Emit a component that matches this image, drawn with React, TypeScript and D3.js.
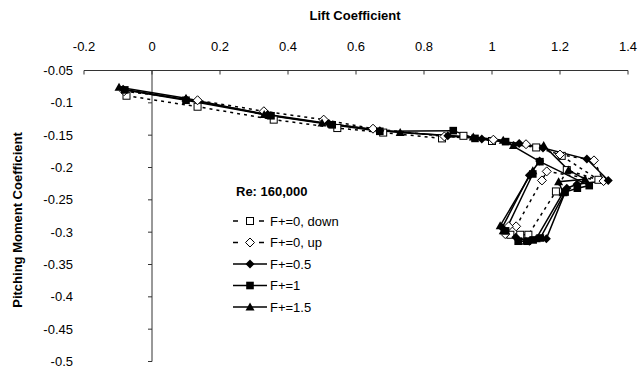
import React from "react";
import * as d3 from "d3";

const xTicks = [-0.2, 0, 0.2, 0.4, 0.6, 0.8, 1, 1.2, 1.4];
const yTicks = [-0.05, -0.1, -0.15, -0.2, -0.25, -0.3, -0.35, -0.4, -0.45, -0.5];

const f0downX = [-0.075, 0.134, 0.358, 0.545, 0.68, 0.853, 0.916, 1.0, 1.13, 1.205, 1.313, 1.22, 1.188, 1.107, 1.083, 1.054];
const f0downY = [-0.089, -0.106, -0.126, -0.139, -0.146, -0.155, -0.151, -0.159, -0.169, -0.182, -0.219, -0.204, -0.237, -0.304, -0.304, -0.304];

const f0upX = [-0.082, 0.134, 0.329, 0.505, 0.65, 0.86, 1.004, 1.1, 1.2, 1.3, 1.328, 1.161, 1.147, 1.071, 1.049, 1.039];
const f0upY = [-0.082, -0.096, -0.113, -0.126, -0.14, -0.152, -0.157, -0.164, -0.18, -0.189, -0.221, -0.206, -0.22, -0.291, -0.291, -0.303];

const f05X = [-0.085, 0.1, 0.34, 0.52, 0.67, 0.87, 0.97, 1.08, 1.15, 1.279, 1.342, 1.25, 1.22, 1.16, 1.11, 1.07, 1.03, 1.11, 1.14];
const f05Y = [-0.079, -0.095, -0.118, -0.132, -0.143, -0.151, -0.156, -0.163, -0.17, -0.187, -0.22, -0.226, -0.232, -0.31, -0.314, -0.308, -0.293, -0.212, -0.19];

const f1X = [-0.08, 0.1, 0.35, 0.53, 0.67, 0.886, 0.95, 1.04, 1.141, 1.286, 1.251, 1.215, 1.142, 1.121, 1.104, 1.077, 1.04, 1.12];
const f1Y = [-0.08, -0.096, -0.12, -0.134, -0.144, -0.143, -0.155, -0.16, -0.191, -0.228, -0.232, -0.238, -0.309, -0.312, -0.314, -0.314, -0.298, -0.21];

const f15X = [-0.097, 0.1, 0.33, 0.5, 0.73, 0.945, 1.033, 1.063, 1.152, 1.225, 1.274, 1.196, 1.209, 1.13, 1.1, 1.033, 1.024, 1.12];
const f15Y = [-0.076, -0.093, -0.118, -0.131, -0.146, -0.153, -0.158, -0.166, -0.166, -0.204, -0.218, -0.222, -0.239, -0.31, -0.314, -0.298, -0.29, -0.205];

const seriesNames = ["F+=0, down", "F+=0, up", "F+=0.5", "F+=1", "F+=1.5"];
const seriesMarkers = ["openSquare", "openDiamond", "diamond", "square", "triangle"];
const seriesDashed = [true, true, false, false, false];

const W = 641, H = 373;
const x = d3.scaleLinear().domain([-0.2, 1.4]).range([84, 628]);
const y = d3.scaleLinear().domain([-0.05, -0.5]).range([70.5, 361.5]);

const FONT = "'Liberation Sans', Arial, sans-serif";

function Marker({ kind, cx, cy }: { kind: string; cx: number; cy: number }) {
  switch (kind) {
    case "openSquare":
      return <rect x={cx - 3.5} y={cy - 3.5} width={7} height={7} fill="#fff" stroke="#000" strokeWidth={1} />;
    case "square":
      return <rect x={cx - 3.8} y={cy - 3.8} width={7.6} height={7.6} fill="#000" />;
    case "openDiamond":
      return <polygon points={`${cx},${cy - 4.5} ${cx + 4.5},${cy} ${cx},${cy + 4.5} ${cx - 4.5},${cy}`} fill="#fff" stroke="#000" strokeWidth={1} />;
    case "diamond":
      return <polygon points={`${cx},${cy - 4.5} ${cx + 4.5},${cy} ${cx},${cy + 4.5} ${cx - 4.5},${cy}`} fill="#000" />;
    case "triangle":
    default:
      return <polygon points={`${cx},${cy - 4.5} ${cx + 4.5},${cy + 3.5} ${cx - 4.5},${cy + 3.5}`} fill="#000" />;
  }
}

export default function App() {
  const allX = [f0downX, f0upX, f05X, f1X, f15X];
  const allY = [f0downY, f0upY, f05Y, f1Y, f15Y];
  const data = allX.map((xs, i) => xs.map((v, j) => [v, allY[i][j]] as [number, number]));
  const line = d3.line<[number, number]>().x((d) => x(d[0])).y((d) => y(d[1]));

  const legX = 233;
  const legY0 = 221;
  const legDy = 21.5;

  return (
    <svg width={W} height={H} style={{ position: "absolute", left: 0, top: 0, background: "#fff" }} fontFamily={FONT}>
      <rect width={W} height={H} fill="#fff" />
      <text x={355} y={20} textAnchor="middle" fontWeight="bold" fontSize={13}>Lift Coefficient</text>
      <text transform={`translate(22,${220}) rotate(-90)`} textAnchor="middle" fontWeight="bold" fontSize={13}>Pitching Moment Coefficient</text>

      <line x1={x(-0.2)} x2={x(1.4)} y1={y(-0.05)} y2={y(-0.05)} stroke="#333" strokeWidth={1} />
      {xTicks.map((t) => (
        <g key={"xt" + t}>
          <line x1={x(t)} x2={x(t)} y1={y(-0.05)} y2={y(-0.05) + 4} stroke="#333" />
          <text x={x(t)} y={51} textAnchor="middle" fontSize={13}>{String(t)}</text>
        </g>
      ))}

      <line x1={x(0)} x2={x(0)} y1={y(-0.05)} y2={y(-0.5)} stroke="#333" strokeWidth={1} />
      {yTicks.map((t) => (
        <g key={"yt" + t}>
          <line x1={x(0) - 4} x2={x(0)} y1={y(t)} y2={y(t)} stroke="#333" />
          <text x={73} y={y(t) + 4.5} textAnchor="end" fontSize={13}>{String(t)}</text>
        </g>
      ))}

      {data.map((d, i) => (
        <path key={"l" + i} d={line(d) || ""} fill="none" stroke="#000" strokeWidth={1.5}
          strokeDasharray={seriesDashed[i] ? "3,4" : undefined} />
      ))}
      {data.map((d, i) => (
        <g key={"m" + i}>
          {d.map((p, j) => <Marker key={j} kind={seriesMarkers[i]} cx={x(p[0])} cy={y(p[1])} />)}
        </g>
      ))}

      <text x={236} y={196} fontWeight="bold" fontSize={13}>Re: 160,000</text>
      {seriesNames.map((name, i) => {
        const ly = legY0 + i * legDy;
        return (
          <g key={"lg" + i}>
            <line x1={legX} x2={legX + 34} y1={ly} y2={ly} stroke="#000" strokeWidth={1.5}
              strokeDasharray={seriesDashed[i] ? "5,8" : undefined} />
            <Marker kind={seriesMarkers[i]} cx={legX + 17} cy={ly} />
            <text x={legX + 37} y={ly + 4.5} fontSize={13}>{name}</text>
          </g>
        );
      })}
    </svg>
  );
}
